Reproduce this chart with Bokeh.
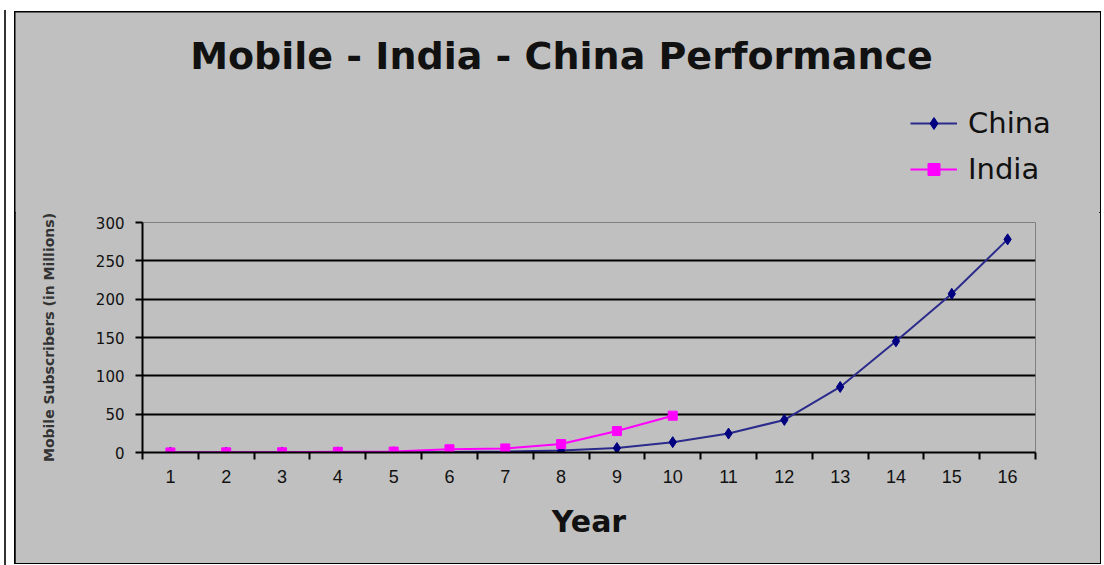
from bokeh.plotting import figure
from bokeh.models import (Range1d, FixedTicker, Legend, LegendItem, Div, Label, ColumnDataSource)
from bokeh.layouts import row, column
from bokeh.embed import file_html
from bokeh.resources import INLINE

# ---- data ----
years = list(range(1, 17))
year_labels = [str(y) for y in years]
china = [0.02, 0.04, 0.07, 0.1, 0.2, 0.5, 1.3, 2.5, 5.8, 13.5, 24.7, 42.5, 85.5, 145, 207, 278]
india_years = list(range(1, 11))
india = [0.1, 0.2, 0.3, 0.9, 1.2, 4.2, 5.3, 11, 28, 48]
y_ticks = [0, 50, 100, 150, 200, 250, 300]
series_names = ["China", "India"]

title_text = "Mobile - India - China Performance"
FONT = "Liberation Sans"
DFONT = "DejaVu Sans"
GRAY = "#C0C0C0"
CHINA_LINE = "#2B2B8C"
CHINA_MARK = "#000080"
INDIA_COL = "#FF00FF"

W = 1085
TOP_H = 200
MAIN_H = 351

china_src = ColumnDataSource(data=dict(x=years, y=china))
india_src = ColumnDataSource(data=dict(x=india_years, y=india))

# ---------- header figure: title + legend ----------
h = figure(width=W, height=TOP_H, output_backend="svg", toolbar_location=None,
           x_range=Range1d(0, W), y_range=Range1d(0, TOP_H), frame_align=False,
           min_border=0, background_fill_color=GRAY, border_fill_color=GRAY,
           outline_line_color=None, x_axis_type=None, y_axis_type=None)
h.extra_y_ranges = {"off": Range1d(1000, 2000)}   # series kept out of view here; only for the legend keys
h.xgrid.visible = False
h.ygrid.visible = False
h.add_layout(Label(x=546, y=157, text=title_text, text_font=DFONT, text_font_size="38px",
                   text_font_style="bold", text_align="center", text_baseline="middle",
                   text_color="#111111"))
lc = h.line("x", "y", source=china_src, y_range_name="off", line_color=CHINA_LINE, line_width=2)
mc = h.scatter("x", "y", source=china_src, y_range_name="off", marker="diamond", size=11,
               fill_color=CHINA_MARK, line_color=CHINA_MARK)
li = h.line("x", "y", source=india_src, y_range_name="off", line_color=INDIA_COL, line_width=2)
mi = h.scatter("x", "y", source=india_src, y_range_name="off", marker="square", size=9,
               fill_color=INDIA_COL, line_color=INDIA_COL)
legend = Legend(items=[LegendItem(label=series_names[0], renderers=[lc, mc]),
                       LegendItem(label=series_names[1], renderers=[li, mi])],
                location=(895, 26), orientation="vertical",
                label_text_font=DFONT, label_text_font_size="29px", label_text_color="#111111",
                glyph_width=47, glyph_height=30, label_height=30, spacing=12,
                label_standoff=11, padding=0, margin=0,
                border_line_color=None, background_fill_alpha=0)
h.add_layout(legend)

# ---------- main chart ----------
p = figure(width=W, height=MAIN_H, output_backend="svg", toolbar_location=None,
           x_range=Range1d(0.5, 16.5), y_range=Range1d(0, 300), frame_align=False,
           min_border_left=127, min_border_right=65, min_border_top=10, min_border_bottom=111,
           background_fill_color=GRAY, border_fill_color=GRAY,
           outline_line_color="#808080", outline_line_width=1)

xt = FixedTicker(ticks=years, minor_ticks=[y - 0.5 for y in years] + [16.5])
p.xaxis.ticker = xt
p.xaxis.major_label_overrides = {y: l for y, l in zip(years, year_labels)}
p.xaxis.major_tick_line_color = None
p.xaxis.major_tick_out = 6
p.xaxis.major_tick_in = 0
p.xaxis.minor_tick_line_color = "black"
p.xaxis.minor_tick_line_width = 2
p.xaxis.minor_tick_out = 7
p.xaxis.minor_tick_in = 0
p.xaxis.axis_line_color = "black"
p.xaxis.axis_line_width = 2
p.xaxis.major_label_standoff = 10
p.xaxis.major_label_text_font = FONT
p.xaxis.major_label_text_font_size = "18px"
p.xaxis.major_label_text_color = "#111111"
p.xaxis.axis_label = "Year"
p.xaxis.axis_label_text_font = DFONT
p.xaxis.axis_label_text_font_size = "30px"
p.xaxis.axis_label_text_font_style = "bold"
p.xaxis.axis_label_text_color = "#111111"
p.xaxis.axis_label_standoff = 18

p.yaxis.ticker = FixedTicker(ticks=y_ticks)
p.yaxis.minor_tick_line_color = None
p.yaxis.major_tick_line_color = "black"
p.yaxis.major_tick_line_width = 2
p.yaxis.major_tick_out = 7
p.yaxis.major_tick_in = 0
p.yaxis.axis_line_color = "black"
p.yaxis.axis_line_width = 2
p.yaxis.major_label_standoff = 11
p.yaxis.major_label_text_font = DFONT
p.yaxis.major_label_text_font_size = "15px"
p.yaxis.major_label_text_color = "#111111"
p.yaxis.axis_label = "Mobile Subscribers (in Millions)"
p.yaxis.axis_label_text_font = DFONT
p.yaxis.axis_label_text_font_size = "14px"
p.yaxis.axis_label_text_font_style = "bold"
p.yaxis.axis_label_text_color = "#333333"
p.yaxis.axis_label_standoff = 36

p.xgrid.grid_line_color = None
p.ygrid.ticker = FixedTicker(ticks=y_ticks[1:-1])
p.ygrid.grid_line_color = "black"
p.ygrid.grid_line_width = 2

p.line("x", "y", source=china_src, line_color=CHINA_LINE, line_width=2)
p.scatter("x", "y", source=china_src, marker="diamond", size=11, fill_color=CHINA_MARK, line_color=CHINA_MARK)
p.line("x", "y", source=india_src, line_color=INDIA_COL, line_width=2)
p.scatter("x", "y", source=india_src, marker="square", size=9, fill_color=INDIA_COL, line_color=INDIA_COL)

chart = column(h, p, spacing=0, margin=(12, 4, 2, 7),
               styles={"outline": "2px solid black", "outline-offset": "-1px",
                       "background-color": GRAY})
side = Div(text="", width=4, height=555, margin=(10, 0, 0, 4),
           styles={"border-left": "2px solid #333333"})

layout = row(side, chart)
open("out.html", "w").write(file_html(layout, INLINE))
